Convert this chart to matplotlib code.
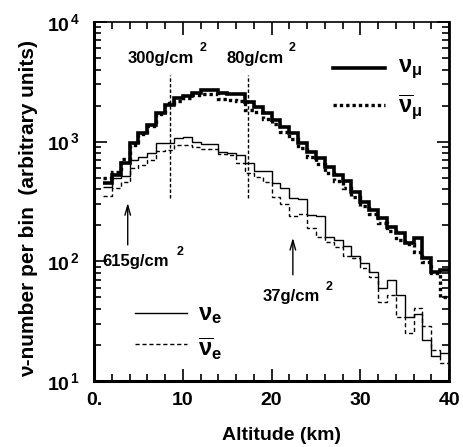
import matplotlib

matplotlib.use("Agg")
import matplotlib.pyplot as plt
import numpy as np
from matplotlib.ticker import FixedLocator, MultipleLocator, NullFormatter, LogLocator

# 1 km altitude bins, 1 .. 40 km
ALT_EDGES = np.arange(1, 41)

NU_MU = [451, 526, 662, 972, 1180, 1377, 1735, 2023, 2313, 2380, 2570, 2700, 2700, 2550,
         2520, 2520, 2150, 1950, 1735, 1514, 1324, 1180, 973, 818, 729, 614, 526, 469,
         379, 313, 268, 230, 194, 172, 142, 157, 107, 81, 85]
NU_MU_BAR = [500, 560, 710, 940, 1150, 1350, 1700, 2100, 2200, 2300, 2450, 2500, 2500, 2250,
             2230, 2200, 1850, 1750, 1550, 1400, 1200, 1050, 880, 740, 650, 550, 470, 410,
             345, 290, 250, 210, 178, 150, 140, 120, 98, 80, 50]
NU_E = [418, 500, 516, 702, 743, 803, 973, 973, 1072, 1092, 993, 955, 955, 818, 803, 773,
        662, 570, 565, 451, 410, 338, 330, 244, 240, 160, 151, 134, 111, 97, 81, 60, 70,
        52, 34, 36, 22, 16, 17]
NU_E_BAR = [351, 410, 459, 601, 638, 702, 830, 851, 937, 937, 903, 867, 860, 790, 770, 662,
            547, 506, 460, 344, 300, 240, 250, 190, 160, 145, 132, 110, 107, 88, 74, 46, 52,
            34, 25, 41, 29, 18, 14]

X_TICKS = [0, 10, 20, 30, 40]
X_TICK_LABELS = ["0.", "10", "20", "30", "40"]
Y_TICKS = [1e1, 1e2, 1e3, 1e4]

# column-depth markers (vertical dotted lines)
DEPTH_LINES_KM = [8.6, 17.4]

MU_BAR_STYLE = (0, (1, 0.9))

plt.rcParams.update(
    {
        "font.family": ["Liberation Sans", "DejaVu Sans"],
        "font.weight": "bold",
        "mathtext.fontset": "custom",
        "mathtext.rm": "Liberation Sans",
        "mathtext.it": "Liberation Sans",
        "mathtext.bf": "Liberation Sans:bold",
    }
)

fig = plt.figure(figsize=(4.63, 4.47), dpi=100)
ax = fig.add_axes([0.203, 0.148, 0.767, 0.803])

ax.stairs(NU_MU, ALT_EDGES, baseline=None, color="black", lw=2.6)
ax.stairs(NU_MU_BAR, ALT_EDGES, baseline=None, color="black", lw=2.4, linestyle=MU_BAR_STYLE)
ax.stairs(NU_E, ALT_EDGES, baseline=None, color="black", lw=1.0)
ax.stairs(NU_E_BAR, ALT_EDGES, baseline=None, color="black", lw=1.0, linestyle=(0, (3, 2)))

ax.vlines(DEPTH_LINES_KM, 338, 3600, colors="black", linestyles=(0, (2.5, 1.5)), lw=1.0)

ax.set_yscale("log")
ax.set_xlim(0, 40)
ax.set_ylim(10, 1e4)

ax.set_xticks(X_TICKS, X_TICK_LABELS)
ax.xaxis.set_minor_locator(MultipleLocator(2))
ax.yaxis.set_major_locator(FixedLocator(Y_TICKS))
ax.set_yticklabels([rf"$\mathbf{{10}}^{{\,\mathbf{{{int(np.log10(v))}}}}}$" for v in Y_TICKS])
ax.yaxis.set_minor_locator(LogLocator(base=10, subs=np.arange(2, 10)))
ax.yaxis.set_minor_formatter(NullFormatter())

ax.tick_params(which="both", direction="in", top=True, right=True, labelsize=14, width=1.2)
ax.tick_params(which="major", length=9)
ax.tick_params(which="minor", length=5)
ax.tick_params(axis="x", pad=8)
ax.tick_params(axis="y", pad=10)

for side, lw in [("left", 2.2), ("bottom", 2.2), ("right", 2.0), ("top", 1.2)]:
    ax.spines[side].set_linewidth(lw)

ax.set_xlabel("Altitude (km)", fontsize=14, fontweight="bold")
ax.set_ylabel("ν-number per bin  (arbitrary units)", fontsize=15, fontweight="bold")
ax.xaxis.set_label_coords(0.527, -0.128)
ax.yaxis.set_label_coords(-0.158, 0.479)

# depth annotations
txt = dict(fontsize=12, fontweight="bold", va="center", ha="left")
sup = dict(fontsize=9, fontweight="bold", va="center", ha="left")
ax.text(3.8, 4900, "300g/cm", **txt)
ax.text(11.9, 6050, "2", **sup)
ax.text(14.9, 4900, "80g/cm", **txt)
ax.text(21.9, 6050, "2", **sup)
ax.text(1.0, 100, "615g/cm", **txt)
ax.text(9.3, 120, "2", **sup)
ax.text(19.0, 51, "37g/cm", **txt)
ax.text(26.1, 61, "2", **sup)

arrow = dict(arrowstyle="->,head_length=0.7,head_width=0.2", lw=1.0, color="black",
             shrinkA=0, shrinkB=0)
ax.annotate("", xy=(3.8, 307), xytext=(3.8, 137), arrowprops=arrow)
ax.annotate("", xy=(22.4, 157), xytext=(22.4, 77), arrowprops=arrow)

# hand-placed legends
tr = ax.transAxes
ax.plot([0.673, 0.820], [0.872, 0.872], transform=tr, color="black", lw=2.6)
ax.plot([0.673, 0.820], [0.769, 0.769], transform=tr, color="black", lw=2.4,
        linestyle=MU_BAR_STYLE)
ax.text(0.855, 0.868, r"$\nu_{\mu}$", transform=tr, fontsize=17, va="center", ha="left")
ax.text(0.855, 0.762, r"$\overline{\nu}_{\mu}$", transform=tr, fontsize=17, va="center", ha="left")

ax.plot([0.115, 0.262], [0.189, 0.189], transform=tr, color="black", lw=1.0)
ax.plot([0.115, 0.262], [0.103, 0.103], transform=tr, color="black", lw=1.0,
        linestyle=(0, (3, 2)))
ax.text(0.293, 0.185, r"$\nu_{e}$", transform=tr, fontsize=17, va="center", ha="left")
ax.text(0.293, 0.090, r"$\overline{\nu}_{e}$", transform=tr, fontsize=17, va="center", ha="left")

fig.savefig("out.png", dpi=100)
